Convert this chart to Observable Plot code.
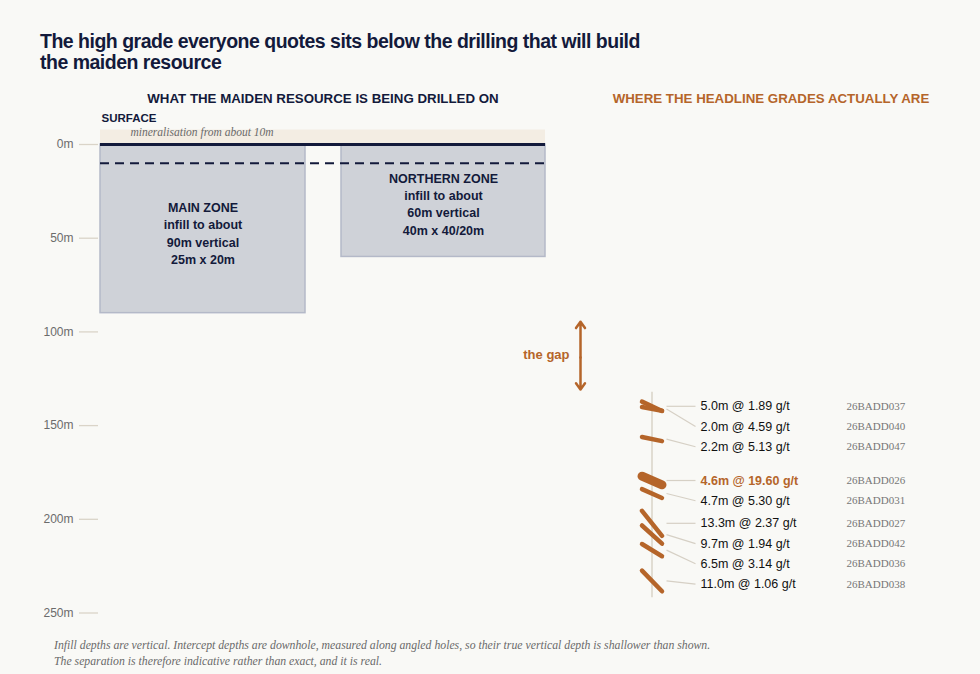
<!DOCTYPE html>
<html>
<head>
<meta charset="utf-8">
<script src="https://cdn.jsdelivr.net/npm/d3@7"></script>
<script src="https://cdn.jsdelivr.net/npm/@observablehq/plot@0.6"></script>
<style>
  html, body { margin: 0; padding: 0; }
  body { width: 980px; height: 674px; background: #f9f9f6; position: relative; overflow: hidden;
         font-family: "Liberation Sans", Arial, sans-serif; }
  #title { position: absolute; left: 40px; top: 31px; font-size: 19.5px; letter-spacing: -0.5px; font-weight: bold; color: #131a3b; line-height: 21px; }
  #chart { position: absolute; left: 0; top: 84px; }
  #foot { position: absolute; left: 54px; top: 637.5px; font-family: "Liberation Serif", "DejaVu Serif", serif;
          font-style: italic; font-size: 11.75px; color: #6a6a6a; line-height: 16px; }
</style>
</head>
<body>
<div id="title">The high grade everyone quotes sits below the drilling that will build<br>the maiden resource</div>
<div id="chart"></div>
<div id="foot">Infill depths are vertical. Intercept depths are downhole, measured along angled holes, so their true vertical depth is shallower than shown.<br>The separation is therefore indicative rather than exact, and it is real.</div>
<script>
// ---------- data ----------
const zoneNames = ["MAIN ZONE", "NORTHERN ZONE"];
const zoneInfillDepth = [90, 60];           // metres vertical
const zoneSpacing = ["25m x 20m", "40m x 40/20m"];
const mineralisationTop = 10;               // metres
const depthTicks = [0, 50, 100, 150, 200, 250];

const holeIds        = ["26BADD037", "26BADD040", "26BADD047", "26BADD026", "26BADD031", "26BADD027", "26BADD042", "26BADD036", "26BADD038"];
const interceptFrom  = [137.2, 140.1, 156.1, 177.0, 183.9, 195.5, 203.3, 213.2, 227.4]; // downhole metres
const interceptWidth = [5.0, 2.0, 2.2, 4.6, 4.7, 13.3, 9.7, 6.5, 11.0];                   // metres
const interceptGrade = [1.89, 4.59, 5.13, 19.60, 5.30, 2.37, 1.94, 3.14, 1.06];           // g/t Au
const highlightHole = "26BADD026";

// ---------- styles & layout ----------
const orange = "#b5652a";
const navy = "#131a3b";
const L = {
  zoneX: [[100, 305], [341, 545]],
  panelX0: 100, panelX1: 545, leftHeaderX: 322.5, rightHeaderX: 770.5,
  gapX: 580, gapLabelX: 569, holeX: 651.5, segHalf: 10,
  leaderX1: 666, leaderX2: 695, labelX: 700, idX: 846
};

const zones = zoneNames.map((name, i) => ({
  name, depth: zoneInfillDepth[i], spacing: zoneSpacing[i],
  x1: L.zoneX[i][0], x2: L.zoneX[i][1]
}));

const rows = holeIds.map((id, i) => ({
  id, from: interceptFrom[i], width: interceptWidth[i], grade: interceptGrade[i],
  to: interceptFrom[i] + interceptWidth[i],
  mid: interceptFrom[i] + interceptWidth[i] / 2,
  hi: id === highlightHole
})).sort((a, b) => a.mid - b.mid);

// dodge labels downward so they never overlap
const minGap = 10.8;
let prev = -Infinity;
for (const r of rows) { r.labelDepth = Math.max(r.mid, prev + minGap); prev = r.labelDepth; }

const gapTop = d3.max(zoneInfillDepth);
const gapBottom = d3.min(interceptFrom);
const gapMid = (gapTop + gapBottom) / 2;
const axisTop = d3.min(interceptFrom) - 5;
const axisBottom = d3.max(rows, d => d.to) + 3.5;

const fmt = d => `${d.width.toFixed(1)}m @ ${d.grade.toFixed(2)} g/t`;

const chart = Plot.plot({
  width: 980,
  height: 545,
  marginLeft: 98, marginRight: 0, marginTop: 60, marginBottom: 16,
  style: { fontFamily: '"Liberation Sans", Arial, sans-serif', background: "transparent", overflow: "visible" },
  x: { type: "identity", axis: null },
  y: { domain: [0, 250], range: [60, 528.5], axis: null },
  marks: [
    Plot.axisY({ ticks: depthTicks, tickFormat: d => `${d}m`, tickSize: 19, tickPadding: 6,
                 stroke: "#dad4c8", strokeWidth: 1.3, fill: "#6b6b6b", fontSize: 12 }),
    // surface band
    Plot.ruleY([0], { x1: L.panelX0, x2: L.panelX1, stroke: "#f3ede3", strokeWidth: 15, dy: -7.5 }),
    // infill zones
    Plot.rect(zones, { x1: "x1", x2: "x2", y1: 0, y2: "depth", fill: "#cfd2d8", stroke: "#b4b9c8", strokeWidth: 1.5 }),
    // mineralisation top
    Plot.ruleY([mineralisationTop], { x1: L.panelX0, x2: L.panelX1, stroke: navy, strokeWidth: 1.8, strokeDasharray: "9,6" }),
    // surface line
    Plot.ruleY([0], { x1: L.panelX0, x2: L.panelX1, stroke: navy, strokeWidth: 3 }),
    Plot.text(zones, {
      x: d => (d.x1 + d.x2) / 2, y: d => d.depth * 0.522,
      text: d => `${d.name}\ninfill to about\n${d.depth}m vertical\n${d.spacing}`,
      fontSize: 12.5, fontWeight: "bold", fill: navy, lineHeight: 1.38
    }),
    // labels above surface
    Plot.text(["SURFACE"], { x: L.panelX0 + 1, y: 0, dy: -22.5, text: d => d, textAnchor: "start", lineAnchor: "bottom",
                             fontSize: 11.5, fontWeight: "bold", fill: navy }),
    Plot.text(["mineralisation from about " + mineralisationTop + "m"], { x: L.panelX0 + 30, y: 0, dy: -9, text: d => d,
                             textAnchor: "start", lineAnchor: "bottom", fontSize: 11.5, fontStyle: "italic",
                             fontFamily: '"Liberation Serif", serif', fill: "#6a6a6a" }),
    Plot.text(["WHAT THE MAIDEN RESOURCE IS BEING DRILLED ON"], { x: L.leftHeaderX, y: 0, dy: -41.5, text: d => d,
                             lineAnchor: "bottom", fontSize: 13.3, fontWeight: "bold", fill: navy }),
    Plot.text(["WHERE THE HEADLINE GRADES ACTUALLY ARE"], { x: L.rightHeaderX, y: 0, dy: -41.5, text: d => d,
                             lineAnchor: "bottom", fontSize: 13.3, fontWeight: "bold", fill: orange }),
    // the gap
    Plot.arrow([gapTop], { x1: L.gapX, x2: L.gapX, y1: gapMid, y2: d => d, insetEnd: 8.5,
                           stroke: orange, strokeWidth: 2.5, headLength: 4.7, headAngle: 70 }),
    Plot.arrow([gapBottom], { x1: L.gapX, x2: L.gapX, y1: gapMid, y2: d => d, insetEnd: 12,
                           stroke: orange, strokeWidth: 2.5, headLength: 4.7, headAngle: 70 }),
    Plot.text(["the gap"], { x: L.gapLabelX, y: gapMid, dy: -3, text: d => d, textAnchor: "end",
                             fontSize: 13, fontWeight: "bold", fill: orange }),
    // hole trace
    Plot.ruleX([L.holeX], { y1: axisTop, y2: axisBottom, stroke: "#d9d3c7", strokeWidth: 1.5 }),
    // leaders
    Plot.link(rows, { x1: L.leaderX1, x2: L.leaderX2, y1: "mid", y2: "labelDepth", stroke: "#d6d0c5", strokeWidth: 1.2 }),
    // intercepts
    Plot.link(rows, { x1: L.holeX - L.segHalf, x2: L.holeX + L.segHalf, y1: "from", y2: "to",
                      stroke: orange, strokeWidth: d => d.hi ? 9 : 4.5, strokeLinecap: "round" }),
    // labels
    Plot.text(rows.filter(d => !d.hi), { x: L.labelX, y: "labelDepth", text: fmt, textAnchor: "start",
                      fontSize: 12.5, fill: "#111" }),
    Plot.text(rows.filter(d => d.hi), { x: L.labelX, y: "labelDepth", text: fmt, textAnchor: "start",
                      fontSize: 12.5, fontWeight: "bold", fill: orange }),
    Plot.text(rows, { x: L.idX, y: "labelDepth", text: "id", textAnchor: "start",
                      fontFamily: '"Liberation Serif", serif', fontSize: 11, fill: "#777" })
  ]
});
document.getElementById("chart").appendChild(chart);
</script>
</body>
</html>
